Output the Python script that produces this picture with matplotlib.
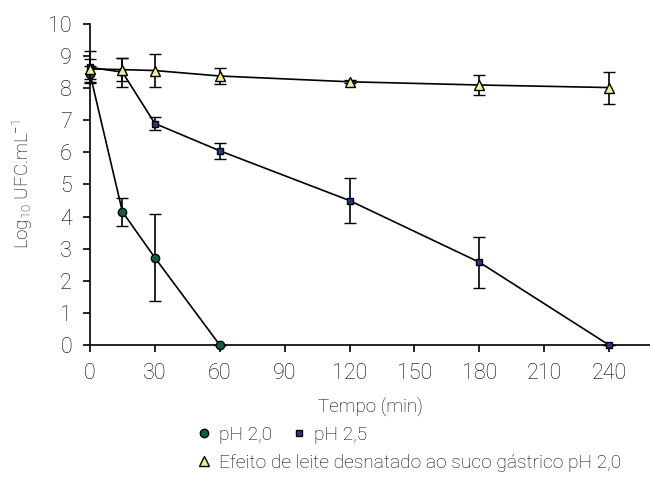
import numpy as np
import matplotlib.pyplot as plt
from matplotlib.lines import Line2D

plt.rcParams['font.family'] = ['Roboto', 'DejaVu Sans']
plt.rcParams['font.weight'] = 'light'
plt.rcParams['axes.labelweight'] = 'light'
plt.rcParams['mathtext.default'] = 'regular'
plt.rcParams['text.color'] = 'black'

# dados
t_ph20 = [0, 15, 30, 60]
y_ph20 = [8.45, 4.15, 2.72, 0.0]
e_ph20 = [0.25, 0.43, 1.35, 0.0]

t_ph25 = [0, 15, 30, 60, 120, 180, 240]
y_ph25 = [8.65, 8.5, 6.9, 6.05, 4.5, 2.58, 0.0]
e_ph25 = [0.5, 0.45, 0.2, 0.25, 0.7, 0.8, 0.0]

t_leite = [0, 15, 30, 60, 120, 180, 240]
y_leite = [8.6, 8.58, 8.55, 8.38, 8.2, 8.1, 8.02]
e_leite = [0.3, 0.37, 0.5, 0.25, 0.05, 0.3, 0.5]

c_ph20 = '#0b5e4a'
c_ph25 = '#1f3a93'
c_leite = '#f7ec8f'

fig = plt.figure(figsize=(6.5, 4.86), dpi=100)
ax = fig.add_axes([90/650, 1-345/486, 560/650, (345-24)/486])

kw = dict(color='black', lw=1.2, ecolor='black', elinewidth=1.2, capsize=4,
          capthick=1.2, markeredgecolor='black', markeredgewidth=1.0, clip_on=False)
for t, y, e, m, ms, c, z in [(t_ph20, y_ph20, e_ph20, 'o', 6, c_ph20, 3),
                             (t_ph25, y_ph25, e_ph25, 's', 5, c_ph25, 4),
                             (t_leite, y_leite, e_leite, '^', 7, c_leite, 5)]:
    ax.errorbar(t, y, yerr=e, marker=m, ms=ms, markerfacecolor=c, zorder=z, **kw)

ax.set_xlim(0, (650-90)/((609-90)/240))
ax.set_ylim(0, 10)
ax.set_xticks(np.arange(0, 241, 30))
ax.set_yticks(np.arange(0, 11, 1))
for s in ['top', 'right']:
    ax.spines[s].set_visible(False)
ax.spines['left'].set_linewidth(1.2)
ax.spines['bottom'].set_linewidth(1.2)
ax.tick_params(direction='out', length=5, width=1.2, labelsize=15.5, labelcolor='black')
ax.tick_params(axis='x', pad=8)
ax.tick_params(axis='y', pad=8)
ax.set_xlabel('Tempo (min)', fontsize=13.5, labelpad=10, color='black')
ax.set_ylabel('Log$_{10}$ UFC.mL$^{-1}$', fontsize=13.5, labelpad=10, color='black')

h1 = Line2D([], [], ls='none', marker='o', ms=6, markerfacecolor=c_ph20, markeredgecolor='black')
h2 = Line2D([], [], ls='none', marker='s', ms=5, markerfacecolor=c_ph25, markeredgecolor='black')
h3 = Line2D([], [], ls='none', marker='^', ms=7, markerfacecolor=c_leite, markeredgecolor='black')
fig.legend([h1, h2], ['pH 2,0', 'pH 2,5'], ncol=2, loc='center left',
           bbox_to_anchor=(196/650, 1-435/486), frameon=False, fontsize=13.8,
           handlelength=0.8, handletextpad=0.4, columnspacing=1.0,
           borderaxespad=0, borderpad=0)
fig.legend([h3], ['Efeito de leite desnatado ao suco gástrico pH 2,0'], loc='center left',
           bbox_to_anchor=(196/650, 1-463/486), frameon=False, fontsize=13.8,
           handlelength=0.8, handletextpad=0.4, borderaxespad=0, borderpad=0)

fig.savefig('out.png', dpi=100)
